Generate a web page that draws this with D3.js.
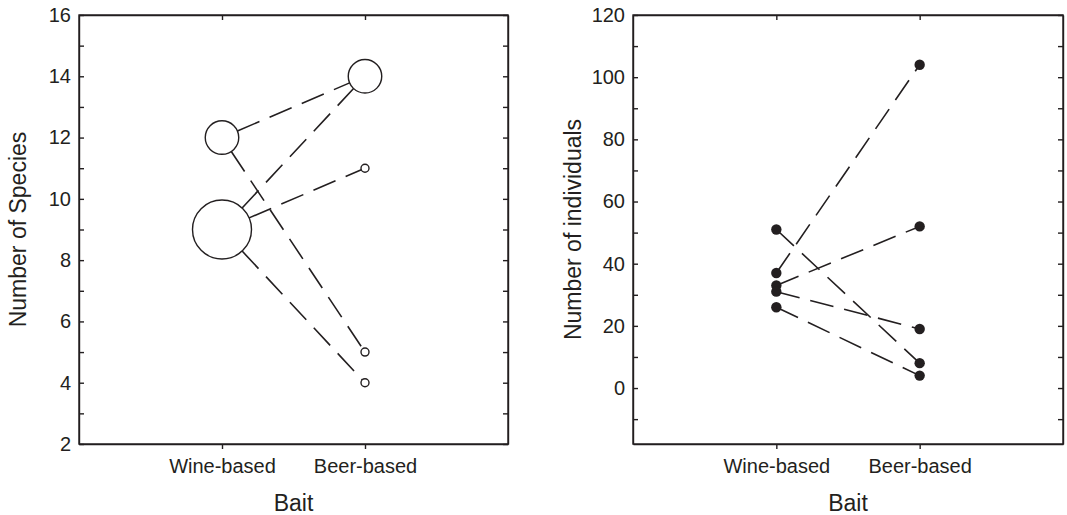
<!DOCTYPE html>
<html lang="en">
<head>
    <meta charset="UTF-8">
    <script src="https://cdnjs.cloudflare.com/ajax/libs/d3/7.8.5/d3.min.js"></script>
    <title>Bait comparison</title>
    <style>
        body { margin: 0; background: #fff; }
        svg { display: block; }
        text { font-family: "Liberation Sans", Arial, Helvetica, sans-serif; fill: #231f20; }
        .axis path, .axis line { stroke: #231f20; stroke-width: 1.4px; }
        .axis text { font-size: 20px; }
        .title { font-size: 23px; }
    </style>
</head>
<body>
<svg width="1067" height="515"></svg>
<script>
    // bait categories
    var baits = ["Wine-based", "Beer-based"];

    // species per trap pair: wine value -> beer value
    var speciesWine = [12, 12, 9, 9, 9];
    var speciesBeer = [14, 5, 14, 11, 4];

    // individuals per trap pair
    var indivWine = [51, 37, 33, 31, 26];
    var indivBeer = [8, 104, 52, 19, 4];

    var speciesTicks = d3.range(2, 17, 1);
    var speciesLabels = [2, 4, 6, 8, 10, 12, 14, 16];
    var indivTicks = d3.range(-10, 121, 10);
    var indivLabels = [0, 20, 40, 60, 80, 100, 120];

    var svg = d3.select("svg");
    var ink = "#231f20";
    var top_ = 15, bottom = 444;

    function panel(left, right, yDomain, ticks, labels, yTitle, titleX) {
        var g = svg.append("g");
        var x = d3.scaleLinear().domain([0, 3]).range([left, right]);
        var y = d3.scaleLinear().domain(yDomain).range([bottom, top_]);
        var xPos = function (b) { return x(baits.indexOf(b) + 1); };

        var fmt = function (d) { return labels.indexOf(d) >= 0 ? d : ""; };

        g.append("g").attr("class", "axis").attr("transform", "translate(" + left + ",0)")
            .call(d3.axisLeft(y).tickValues(ticks).tickFormat(fmt).tickSizeInner(-5).tickSizeOuter(0).tickPadding(8));
        g.append("g").attr("class", "axis").attr("transform", "translate(" + right + ",0)")
            .call(d3.axisRight(y).tickValues(ticks).tickFormat("").tickSizeInner(-5).tickSizeOuter(0));
        g.append("g").attr("class", "axis").attr("transform", "translate(0," + top_ + ")")
            .call(d3.axisTop(x).tickValues([1, 2]).tickFormat("").tickSizeInner(-5).tickSizeOuter(0));
        g.append("g").attr("class", "axis").attr("transform", "translate(0," + bottom + ")")
            .call(d3.axisBottom(x).tickValues([1, 2]).tickFormat(function (d) { return baits[d - 1]; })
                .tickSizeInner(5).tickSizeOuter(0).tickPadding(10));

        g.append("rect")
            .attr("x", left).attr("y", top_)
            .attr("width", right - left).attr("height", bottom - top_)
            .attr("fill", "none").attr("stroke", ink).attr("stroke-width", 1.4);

        g.append("text").attr("class", "title")
            .attr("x", (left + right) / 2).attr("y", 511)
            .attr("text-anchor", "middle").text("Bait");
        g.append("text").attr("class", "title")
            .attr("transform", "translate(" + titleX + "," + (top_ + bottom) / 2 + ") rotate(-90)")
            .attr("text-anchor", "middle").attr("dy", "0.35em").text(yTitle);

        return { g: g, x: xPos, y: y };
    }

    // ---- left panel: species, open circles sized by overlapping pairs
    var p1 = panel(79, 508, [2, 16], speciesTicks, speciesLabels, "Number of Species", 18);

    var pairs1 = speciesWine.map(function (w, i) { return { wine: w, beer: speciesBeer[i] }; });
    var pts1 = [];
    baits.forEach(function (b, bi) {
        var vals = bi === 0 ? speciesWine : speciesBeer;
        d3.rollups(vals, function (v) { return v.length; }, function (d) { return d; })
            .forEach(function (r) { pts1.push({ bait: b, value: r[0], n: r[1] }); });
    });
    var rScale = d3.scaleLinear().domain([1, 3]).range([4, 29.5]);
    var radiusOf = function (bait, v) {
        return rScale(pts1.find(function (p) { return p.bait === bait && p.value === v; }).n);
    };

    p1.g.selectAll(".link").data(pairs1).enter().append("line")
        .each(function (d) {
            var x1 = p1.x(baits[0]), y1 = p1.y(d.wine), x2 = p1.x(baits[1]), y2 = p1.y(d.beer);
            var len = Math.hypot(x2 - x1, y2 - y1);
            var ux = (x2 - x1) / len, uy = (y2 - y1) / len;
            var r1 = radiusOf(baits[0], d.wine), r2 = radiusOf(baits[1], d.beer);
            d3.select(this)
                .attr("x1", x1 + ux * r1).attr("y1", y1 + uy * r1)
                .attr("x2", x2 - ux * r2).attr("y2", y2 - uy * r2);
        })
        .attr("stroke", ink).attr("stroke-width", 1.6).attr("stroke-dasharray", "24,11");

    p1.g.selectAll(".pt").data(pts1).enter().append("circle")
        .attr("cx", function (d) { return p1.x(d.bait); })
        .attr("cy", function (d) { return p1.y(d.value); })
        .attr("r", function (d) { return rScale(d.n); })
        .attr("fill", "none").attr("stroke", ink).attr("stroke-width", 1.4);

    // ---- right panel: individuals, filled dots
    var p2 = panel(633, 1063, [-18, 120], indivTicks, indivLabels, "Number of individuals", 573);

    var pairs2 = indivWine.map(function (w, i) { return { wine: w, beer: indivBeer[i] }; });

    p2.g.selectAll(".link").data(pairs2).enter().append("line")
        .attr("x1", p2.x(baits[0])).attr("y1", function (d) { return p2.y(d.wine); })
        .attr("x2", p2.x(baits[1])).attr("y2", function (d) { return p2.y(d.beer); })
        .attr("stroke", ink).attr("stroke-width", 1.6).attr("stroke-dasharray", "24,11");

    var dots = [];
    indivWine.forEach(function (v) { dots.push({ bait: baits[0], value: v }); });
    indivBeer.forEach(function (v) { dots.push({ bait: baits[1], value: v }); });

    p2.g.selectAll(".dot").data(dots).enter().append("circle")
        .attr("cx", function (d) { return p2.x(d.bait); })
        .attr("cy", function (d) { return p2.y(d.value); })
        .attr("r", 5.2).attr("fill", ink);
</script>
</body>
</html>
